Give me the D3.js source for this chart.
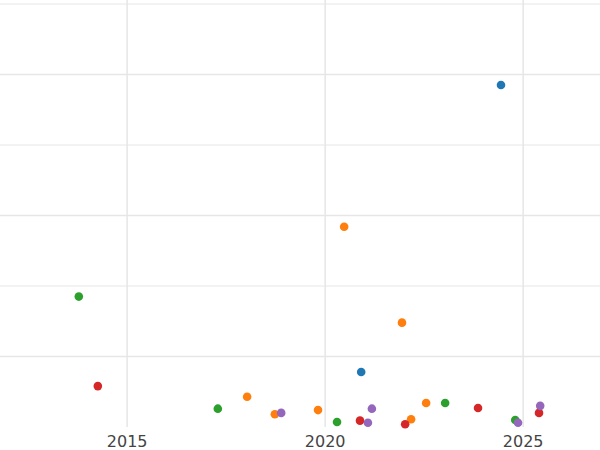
<!DOCTYPE html>
<html><head><meta charset="utf-8">
<script src="https://cdn.jsdelivr.net/npm/d3@7"></script>
<style>body{margin:0;background:#fff}</style>
</head><body>
<svg id="chart" width="600" height="450"></svg>
<script>
// series data: year, value
const blueX = [2024.44, 2020.91];
const blueY = [4.85, 0.78];
const orangeX = [2020.48, 2021.94, 2018.03, 2018.73, 2019.82, 2022.55, 2022.17];
const orangeY = [2.84, 1.48, 0.43, 0.18, 0.24, 0.34, 0.11];
const greenX = [2013.78, 2017.29, 2020.30, 2023.03, 2024.80];
const greenY = [1.85, 0.26, 0.07, 0.34, 0.10];
const redX = [2014.26, 2020.88, 2022.02, 2023.86, 2025.40];
const redY = [0.58, 0.09, 0.04, 0.27, 0.20];
const purpleX = [2018.89, 2021.18, 2021.08, 2024.87, 2025.43];
const purpleY = [0.20, 0.26, 0.06, 0.06, 0.30];
const xTicks = [2015, 2020, 2025];
const yGrid = [1, 2, 3, 4, 5, 6];

const series = [
  {x: blueX, y: blueY, color: "#1f77b4"},
  {x: orangeX, y: orangeY, color: "#ff7f0e"},
  {x: greenX, y: greenY, color: "#2ca02c"},
  {x: redX, y: redY, color: "#d62728"},
  {x: purpleX, y: purpleY, color: "#9467bd"}
];

const svg = d3.select("#chart");
const x = d3.scaleLinear().domain([2011.79, 2026.94]).range([0, 600]);
const y = d3.scaleLinear().domain([0, 6]).range([427, 4]);

// gridlines
svg.append("g").selectAll("line").data(yGrid).join("line")
  .attr("x1", 0).attr("x2", 600)
  .attr("y1", d => y(d)).attr("y2", d => y(d))
  .attr("stroke", "#e6e6e6").attr("stroke-width", d => d % 2 ? 1.5 : 1);
svg.append("g").selectAll("line").data(xTicks).join("line")
  .attr("x1", d => x(d)).attr("x2", d => x(d))
  .attr("y1", 0).attr("y2", 427)
  .attr("stroke", "#e6e6e6").attr("stroke-width", 1.5);

// x tick labels
svg.append("g").selectAll("text").data(xTicks).join("text")
  .attr("x", d => x(d)).attr("y", 447)
  .attr("text-anchor", "middle")
  .attr("font-family", "DejaVu Sans, sans-serif").attr("font-size", 16)
  .attr("fill", "#444").text(d => d);

// points
series.forEach(s => {
  svg.append("g").selectAll("circle").data(s.x.map((v, i) => [v, s.y[i]])).join("circle")
    .attr("cx", d => x(d[0])).attr("cy", d => y(d[1]))
    .attr("r", 4.3).attr("fill", s.color);
});
</script>
</body></html>
